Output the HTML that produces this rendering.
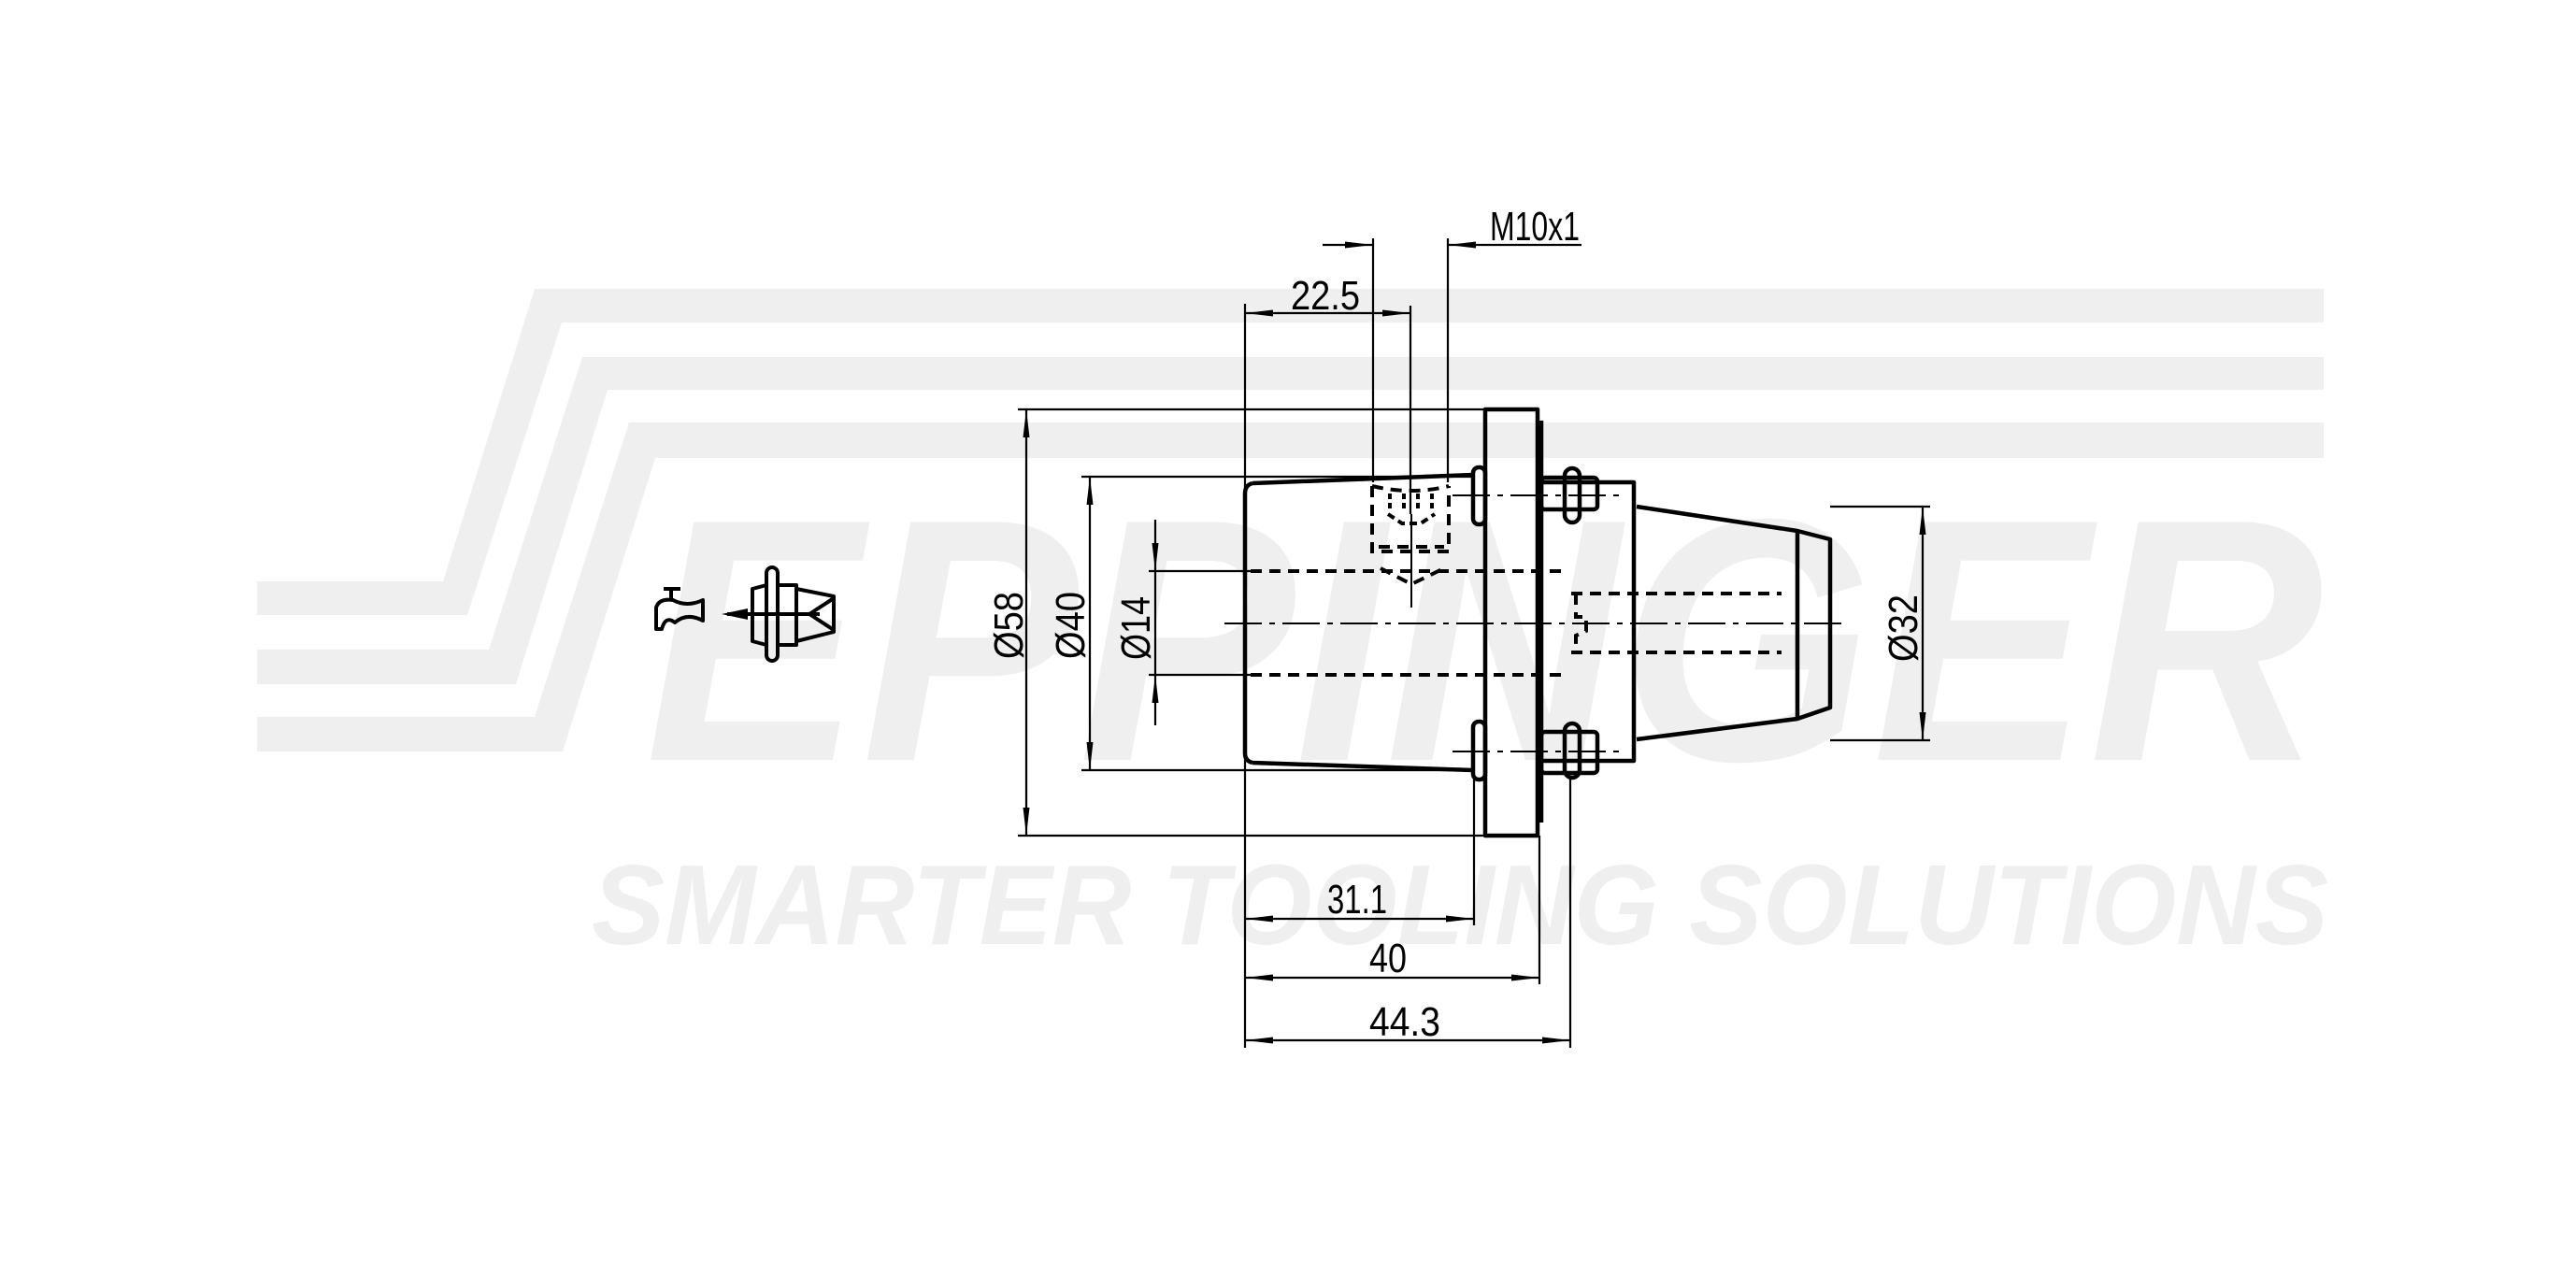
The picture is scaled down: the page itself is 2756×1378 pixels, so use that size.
<!DOCTYPE html>
<html><head><meta charset="utf-8"><style>html,body{margin:0;padding:0;background:#fff}svg{display:block}</style></head>
<body>
<svg xmlns="http://www.w3.org/2000/svg" width="2756" height="1378" viewBox="0 0 2756 1378">
<defs>
<marker id="a" viewBox="0 0 30 10" refX="30" refY="5" markerWidth="30" markerHeight="10" markerUnits="userSpaceOnUse" orient="auto-start-reverse"><path d="M0,1.5 L30,5 L0,8.5 z" fill="#000"/></marker>
</defs>
<!-- watermark -->
<g fill="#efefef">
<polygon points="572,309 2486,309 2486,345 601,345 500,658 275,658 275,622 474,622"/>
<polygon points="623,382 2486,382 2486,417 650,417 552,732 275,732 275,695 523,695"/>
<polygon points="673,452 2486,452 2486,490 701,490 602,804 275,804 275,767 572,767"/>
<text x="690" y="813" font-family="Liberation Sans, sans-serif" font-weight="bold" font-style="italic" font-size="370" textLength="1796" lengthAdjust="spacingAndGlyphs">EPPINGER</text>
<text x="633" y="1010" font-family="Liberation Sans, sans-serif" font-weight="bold" font-style="italic" font-size="122" textLength="1858" lengthAdjust="spacingAndGlyphs">SMARTER TOOLING SOLUTIONS</text>
</g>
<!-- icon -->
<g fill="none" stroke="#000" stroke-width="4" stroke-linejoin="round">
<path d="M702,673 L702,650 Q705,640 720,642 Q735,650 752,642 L752,664 Q735,655 722,666 Q712,658 708,673 Z"/>
<path d="M718,641 L718,632 M710,630 L728,630"/>
<line x1="778" y1="657" x2="877" y2="657"/>
<rect x="820" y="607" width="12" height="100" rx="6"/>
<path d="M805,630 L820,626 L820,690 L805,686 Z"/>
<rect x="832" y="626" width="20" height="64"/>
<path d="M852,630 L892,638 L892,676 L852,686"/>
<path d="M892,640 L866,657 L892,674"/>
</g>
<polygon points="772,657 800,651 800,663" fill="#000"/>
<!-- main outlines -->
<g fill="none" stroke="#000" stroke-width="4.5" stroke-linejoin="round">
<path d="M1340,517 L1576,508 M1340,816 L1576,824 M1340,517 Q1332,519 1332,528 L1332,806 Q1332,814 1340,816"/>
<rect x="1589" y="438" width="56" height="456"/>
<line x1="1649" y1="450" x2="1649" y2="880"/>
<rect x="1576" y="500" width="13" height="61" rx="6"/>
<rect x="1576" y="772" width="13" height="62" rx="6"/>
<path d="M1650,516 L1748,516 L1748,814 L1650,814"/>
<path d="M1751,542 L1923,568 L1958,577 L1958,757 L1923,769 L1751,791"/>
<line x1="1923" y1="568" x2="1923" y2="769"/>
<rect x="1649" y="511" width="60" height="34" rx="4"/>
<rect x="1674" y="501" width="16" height="58" rx="8"/>
<rect x="1649" y="783" width="60" height="44" rx="4"/>
<rect x="1674" y="774" width="16" height="58" rx="8"/>
</g>
<!-- hidden lines -->
<g fill="none" stroke="#000" stroke-width="4" stroke-dasharray="12,8">
<line x1="1338" y1="611" x2="1678" y2="611"/>
<line x1="1338" y1="722" x2="1678" y2="722"/>
<line x1="1681" y1="635" x2="1906" y2="635"/>
<line x1="1681" y1="698" x2="1906" y2="698"/>
<path d="M1468,520 L1468,590 L1550,590 L1550,520"/>
<path d="M1468,520 Q1510,530 1550,520"/>
<line x1="1475" y1="585" x2="1545" y2="585"/>
<path d="M1487,528 L1487,548 M1502,528 L1502,548 M1517,528 L1517,548 M1532,528 L1532,548" stroke-dasharray="6,4"/>
<path d="M1485,550 L1500,560 L1520,560 L1535,550" stroke-dasharray="8,5"/>
<path d="M1477,608 L1510,625 L1545,608"/>
<path d="M1686,635 L1686,660 L1697,660 L1697,675 L1686,680 L1686,698"/>
</g>
<!-- centre lines -->
<g fill="none" stroke="#000" stroke-width="2" stroke-dasharray="40,8,6,8">
<line x1="1310" y1="667" x2="1975" y2="667"/>
<line x1="1554" y1="530" x2="1734" y2="530"/>
<line x1="1554" y1="804" x2="1734" y2="804"/>
</g>
<line x1="1510" y1="550" x2="1510" y2="650" stroke="#000" stroke-width="2"/>
<!-- dimension & extension lines -->
<g fill="none" stroke="#000" stroke-width="2.2">
<line x1="1089" y1="438" x2="1589" y2="438"/>
<line x1="1089" y1="894" x2="1589" y2="894"/>
<line x1="1157" y1="510" x2="1576" y2="510"/>
<line x1="1157" y1="824" x2="1576" y2="824"/>
<line x1="1229" y1="611" x2="1338" y2="611"/>
<line x1="1229" y1="722" x2="1338" y2="722"/>
<line x1="1958" y1="542" x2="2065" y2="542"/>
<line x1="1958" y1="792" x2="2065" y2="792"/>
<line x1="1098" y1="438" x2="1098" y2="894" marker-start="url(#a)" marker-end="url(#a)"/>
<line x1="1166" y1="510" x2="1166" y2="824" marker-start="url(#a)" marker-end="url(#a)"/>
<line x1="1236" y1="556" x2="1236" y2="611" marker-end="url(#a)"/>
<line x1="1236" y1="776" x2="1236" y2="722" marker-end="url(#a)"/>
<line x1="1236" y1="611" x2="1236" y2="722"/>
<line x1="2057" y1="542" x2="2057" y2="792" marker-start="url(#a)" marker-end="url(#a)"/>
<!-- top -->
<line x1="1332" y1="325" x2="1332" y2="1121"/>
<line x1="1509" y1="327" x2="1509" y2="550"/>
<line x1="1469" y1="255" x2="1469" y2="516"/>
<line x1="1549" y1="255" x2="1549" y2="516"/>
<line x1="1332" y1="335" x2="1509" y2="335" marker-start="url(#a)" marker-end="url(#a)"/>
<line x1="1415" y1="262" x2="1469" y2="262" marker-end="url(#a)"/>
<line x1="1692" y1="262" x2="1549" y2="262" marker-end="url(#a)"/>
<!-- bottom -->
<line x1="1577" y1="834" x2="1577" y2="990"/>
<line x1="1647" y1="894" x2="1647" y2="1053"/>
<line x1="1680" y1="832" x2="1680" y2="1121"/>
<line x1="1332" y1="983" x2="1577" y2="983" marker-start="url(#a)" marker-end="url(#a)"/>
<line x1="1332" y1="1046" x2="1647" y2="1046" marker-start="url(#a)" marker-end="url(#a)"/>
<line x1="1332" y1="1113" x2="1680" y2="1113" marker-start="url(#a)" marker-end="url(#a)"/>
</g>
<!-- labels -->
<g font-family="Liberation Sans, sans-serif" font-size="44" fill="#000" text-anchor="middle">
<text x="1418" y="331" textLength="74" lengthAdjust="spacingAndGlyphs">22.5</text>
<text x="1642" y="257" textLength="96" lengthAdjust="spacingAndGlyphs">M10x1</text>
<text x="1452" y="977" textLength="64" lengthAdjust="spacingAndGlyphs">31.1</text>
<text x="1485" y="1040" textLength="40" lengthAdjust="spacingAndGlyphs">40</text>
<text x="1503" y="1108" textLength="76" lengthAdjust="spacingAndGlyphs">44.3</text>
<text transform="translate(1094,669) rotate(-90)" textLength="72" lengthAdjust="spacingAndGlyphs">Ø58</text>
<text transform="translate(1160,669) rotate(-90)" textLength="72" lengthAdjust="spacingAndGlyphs">Ø40</text>
<text transform="translate(1230,672) rotate(-90)" textLength="68" lengthAdjust="spacingAndGlyphs">Ø14</text>
<text transform="translate(2051,672) rotate(-90)" textLength="72" lengthAdjust="spacingAndGlyphs">Ø32</text>
</g>
</svg>
</body></html>
